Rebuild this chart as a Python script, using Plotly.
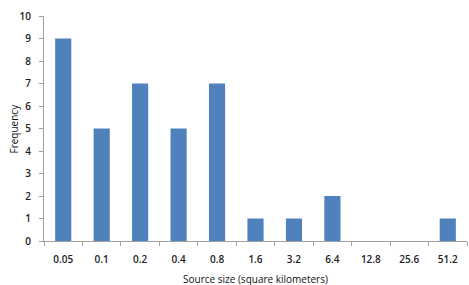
import plotly.graph_objects as go

categories = ["0.05", "0.1", "0.2", "0.4", "0.8", "1.6", "3.2", "6.4", "12.8", "25.6", "51.2"]
frequency = [9, 5, 7, 5, 7, 1, 1, 2, 0, 0, 1]
y_ticks = list(range(0, 11))
x_title = "Source size (square kilometers)"
y_title = "Frequency"

fig = go.Figure(go.Bar(x=categories, y=frequency, marker_color="#4F81BD",
                       marker_line_width=0, width=0.42))

tick_font = dict(size=10, color="#222", weight=600)
title_font = dict(size=10, color="#111")

fig.update_layout(
    width=469, height=285,
    margin=dict(l=44, r=2, t=16, b=44),
    plot_bgcolor="white", paper_bgcolor="white",
    showlegend=False,
    font=dict(family="Open Sans, Arial, sans-serif", color="#111"),
    annotations=[
        dict(text=x_title, xref="paper", yref="paper", x=0.5, y=0, yshift=-38,
             xanchor="center", yanchor="middle", showarrow=False, font=title_font),
        dict(text=y_title, xref="paper", yref="paper", x=0, y=0.5, xshift=-31,
             xanchor="center", yanchor="middle", textangle=-90, showarrow=False, font=title_font),
    ],
)
fig.update_xaxes(
    type="category", automargin=False, showgrid=False, showline=True, linecolor="#A0A0A0", linewidth=1,
    ticks="outside", tickson="boundaries", ticklen=4, tickcolor="#A0A0A0",
    tickfont=tick_font, ticklabelstandoff=9,
)
fig.update_yaxes(
    range=[0, 10], tickvals=y_ticks, automargin=False, showgrid=False, zeroline=False,
    showline=True, linecolor="#A0A0A0", linewidth=1,
    ticks="outside", ticklen=4, tickcolor="#A0A0A0",
    tickfont=tick_font, ticklabelstandoff=6,
)

fig.write_html("out.html", config={"displayModeBar": False},
               post_script="document.body.style.margin='0';")
